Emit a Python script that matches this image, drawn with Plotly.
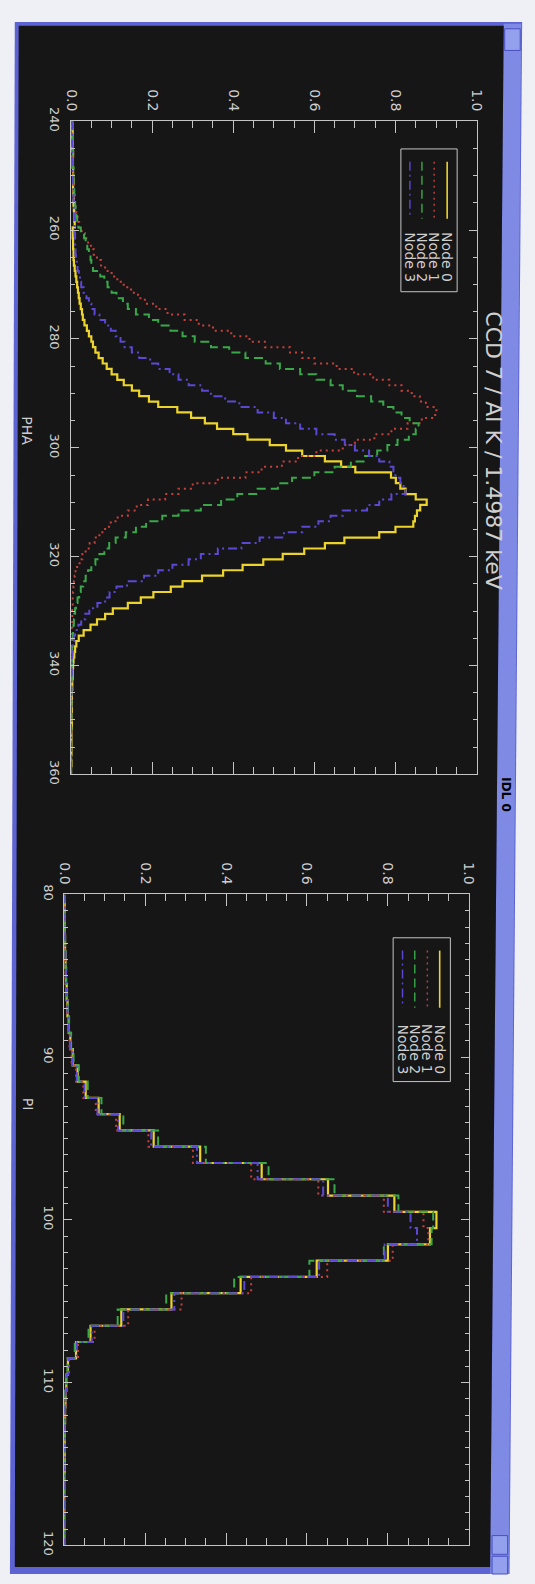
import plotly.graph_objects as go

W, H = 535, 1584

# ---------------- data ----------------
pha = list(range(240, 361))
pha_node0 = [
    0.003, 0.002, 0.004, 0.003, 0.004, 0.003, 0.005, 0.004, 0.004, 0.005,
    0.005, 0.006, 0.005, 0.006, 0.007, 0.006, 0.007, 0.008, 0.008, 0.009,
    0.004, 0.004, 0.005, 0.005, 0.006, 0.006, 0.007, 0.009, 0.011, 0.013,
    0.015, 0.017, 0.019, 0.021, 0.024, 0.027, 0.029, 0.033, 0.039, 0.044,
    0.050, 0.054, 0.060, 0.068, 0.078, 0.088, 0.100, 0.114, 0.130, 0.150,
    0.168, 0.192, 0.215, 0.262, 0.296, 0.330, 0.360, 0.400, 0.435, 0.490,
    0.530, 0.570, 0.626, 0.666, 0.701, 0.789, 0.801, 0.812, 0.825, 0.850,
    0.877, 0.861, 0.853, 0.848, 0.844, 0.800, 0.760, 0.674, 0.626, 0.575,
    0.522, 0.474, 0.423, 0.375, 0.323, 0.275, 0.246, 0.203, 0.172, 0.140,
    0.103, 0.084, 0.064, 0.048, 0.031, 0.019, 0.013, 0.010, 0.008, 0.006,
    0.005, 0.004, 0.004, 0.003, 0.003, 0.002, 0.002, 0.002, 0.002, 0.001,
    0.001, 0.002, 0.001, 0.001, 0.001, 0.001, 0.001, 0.000, 0.001, 0.000,
    0.000,
]
pha_node1 = [
    0.002, 0.003, 0.002, 0.003, 0.003, 0.004, 0.003, 0.004, 0.004, 0.005,
    0.005, 0.005, 0.006, 0.006, 0.007, 0.009, 0.011, 0.013, 0.016, 0.020,
    0.026, 0.034, 0.042, 0.049, 0.056, 0.064, 0.074, 0.084, 0.100, 0.114,
    0.130, 0.148, 0.165, 0.182, 0.210, 0.238, 0.280, 0.315, 0.350, 0.395,
    0.440, 0.478, 0.540, 0.570, 0.600, 0.655, 0.698, 0.745, 0.785, 0.815,
    0.840, 0.860, 0.875, 0.901, 0.898, 0.865, 0.830, 0.790, 0.748, 0.700,
    0.670, 0.605, 0.560, 0.520, 0.470, 0.430, 0.362, 0.300, 0.265, 0.232,
    0.190, 0.162, 0.140, 0.115, 0.098, 0.084, 0.070, 0.058, 0.046, 0.036,
    0.028, 0.021, 0.015, 0.011, 0.009, 0.007, 0.006, 0.005, 0.004, 0.004,
    0.003, 0.003, 0.003, 0.002, 0.002, 0.002, 0.002, 0.001, 0.002, 0.001,
    0.001, 0.001, 0.001, 0.001, 0.001, 0.001, 0.000, 0.001, 0.000, 0.001,
    0.000, 0.000, 0.001, 0.000, 0.000, 0.000, 0.000, 0.000, 0.000, 0.000,
    0.000,
]
pha_node2 = [
    0.003, 0.004, 0.003, 0.004, 0.004, 0.005, 0.004, 0.005, 0.005, 0.006,
    0.006, 0.006, 0.007, 0.008, 0.009, 0.010, 0.011, 0.013, 0.015, 0.018,
    0.024, 0.032, 0.036, 0.040, 0.044, 0.048, 0.050, 0.054, 0.072, 0.082,
    0.090, 0.100, 0.112, 0.128, 0.140, 0.160, 0.192, 0.215, 0.245, 0.275,
    0.305, 0.345, 0.390, 0.430, 0.480, 0.515, 0.565, 0.605, 0.640, 0.670,
    0.705, 0.740, 0.770, 0.795, 0.815, 0.835, 0.857, 0.850, 0.833, 0.805,
    0.780, 0.755, 0.725, 0.690, 0.650, 0.600, 0.545, 0.510, 0.460, 0.410,
    0.370, 0.320, 0.265, 0.225, 0.185, 0.160, 0.135, 0.110, 0.094, 0.082,
    0.070, 0.060, 0.050, 0.042, 0.036, 0.030, 0.024, 0.020, 0.016, 0.012,
    0.010, 0.008, 0.007, 0.006, 0.005, 0.004, 0.004, 0.003, 0.003, 0.002,
    0.002, 0.002, 0.002, 0.001, 0.001, 0.001, 0.001, 0.001, 0.000, 0.001,
    0.000, 0.001, 0.000, 0.000, 0.000, 0.000, 0.000, 0.000, 0.000, 0.000,
    0.000,
]
pha_node3 = [
    0.002, 0.003, 0.003, 0.002, 0.003, 0.004, 0.003, 0.004, 0.004, 0.004,
    0.005, 0.005, 0.005, 0.006, 0.006, 0.007, 0.007, 0.008, 0.008, 0.009,
    0.009, 0.010, 0.010, 0.010, 0.011, 0.012, 0.014, 0.016, 0.019, 0.022,
    0.025, 0.031, 0.038, 0.044, 0.050, 0.058, 0.070, 0.084, 0.098, 0.110,
    0.122, 0.132, 0.150, 0.168, 0.195, 0.215, 0.243, 0.265, 0.290, 0.323,
    0.345, 0.380, 0.415, 0.460, 0.500, 0.530, 0.565, 0.605, 0.650, 0.675,
    0.700, 0.735, 0.760, 0.785, 0.795, 0.800, 0.812, 0.820, 0.825, 0.790,
    0.760, 0.730, 0.670, 0.640, 0.610, 0.570, 0.525, 0.465, 0.420, 0.362,
    0.320, 0.290, 0.250, 0.215, 0.180, 0.138, 0.112, 0.095, 0.084, 0.065,
    0.045, 0.035, 0.025, 0.018, 0.010, 0.007, 0.005, 0.004, 0.003, 0.003,
    0.002, 0.002, 0.001, 0.001, 0.001, 0.001, 0.000, 0.001, 0.000, 0.000,
    0.000, 0.000, 0.000, 0.000, 0.000, 0.000, 0.000, 0.000, 0.000, 0.000,
    0.000,
]

pi = list(range(80, 121))
pi_node0 = [
    0.000, 0.001, 0.001, 0.002, 0.003, 0.004, 0.006, 0.008, 0.011, 0.015,
    0.021, 0.033, 0.053, 0.085, 0.137, 0.221, 0.336, 0.488, 0.652, 0.816,
    0.920, 0.904, 0.800, 0.624, 0.436, 0.265, 0.141, 0.065, 0.029, 0.009,
    0.005, 0.003, 0.002, 0.001, 0.001, 0.001, 0.000, 0.000, 0.000, 0.000,
    0.000,
]
pi_node1 = [
    0.000, 0.001, 0.001, 0.001, 0.002, 0.003, 0.005, 0.007, 0.010, 0.013,
    0.018, 0.029, 0.047, 0.078, 0.128, 0.208, 0.318, 0.462, 0.628, 0.790,
    0.888, 0.900, 0.812, 0.650, 0.462, 0.290, 0.158, 0.075, 0.034, 0.012,
    0.006, 0.004, 0.002, 0.001, 0.001, 0.001, 0.000, 0.000, 0.000, 0.000,
    0.000,
]
pi_node2 = [
    0.000, 0.001, 0.001, 0.002, 0.003, 0.005, 0.007, 0.009, 0.012, 0.017,
    0.023, 0.036, 0.058, 0.092, 0.146, 0.232, 0.350, 0.505, 0.668, 0.826,
    0.912, 0.908, 0.790, 0.606, 0.420, 0.252, 0.132, 0.060, 0.026, 0.008,
    0.004, 0.002, 0.001, 0.001, 0.000, 0.000, 0.000, 0.000, 0.000, 0.000,
    0.000,
]
pi_node3 = [
    0.000, 0.001, 0.001, 0.002, 0.003, 0.004, 0.006, 0.008, 0.011, 0.014,
    0.020, 0.031, 0.050, 0.082, 0.133, 0.215, 0.328, 0.478, 0.640, 0.800,
    0.856, 0.872, 0.792, 0.630, 0.445, 0.272, 0.146, 0.068, 0.031, 0.010,
    0.005, 0.003, 0.002, 0.001, 0.001, 0.000, 0.000, 0.000, 0.000, 0.000,
    0.000,
]

node_names = ["Node 0", "Node 1", "Node 2", "Node 3"]
node_colors = ["#ecd42c", "#c8403c", "#3aa84a", "#5b48d4"]
node_dashes = ["solid", "2px,4px", "9px,5px", "9px,4px,2px,4px"]
node_widths = [2.2, 2.0, 2.0, 2.0]

value_ticks = [0.0, 0.2, 0.4, 0.6, 0.8, 1.0]
value_labels = ["0.0", "0.2", "0.4", "0.6", "0.8", "1.0"]
pha_ticks = [240, 260, 280, 300, 320, 340, 360]
pha_labels = ["240", "260", "280", "300", "320", "340", "360"]
pi_ticks = [80, 90, 100, 110, 120]
pi_labels = ["80", "90", "100", "110", "120"]

plot_title = "CCD 7 / Al K / 1.4987 keV"
window_title = "IDL 0"

# ---------------- styling ----------------
FONT = "DejaVu Sans"
AX = "#c4c4c4"
TXT = "#cfcfcf"
BLACK = "#161617"
FRAME = "#5d63d2"
BAR = "#7e8ae4"


def fx(x):
    return x / W


def fy(y):
    return 1 - y / H


fig = go.Figure()

# histograms (PHA / PI run down the page, normalised counts run across)
for name, vals, col, dash, lw in zip(node_names, [pha_node0, pha_node1, pha_node2, pha_node3],
                                     node_colors, node_dashes, node_widths):
    fig.add_trace(go.Scatter(x=vals, y=pha, mode="lines", name=name, xaxis="x", yaxis="y",
                             line=dict(color=col, dash=dash, width=lw, shape="vhv"),
                             showlegend=False, hoverinfo="skip"))
for name, vals, col, dash, lw in zip(node_names, [pi_node0, pi_node1, pi_node2, pi_node3],
                                     node_colors, node_dashes, node_widths):
    fig.add_trace(go.Scatter(x=vals, y=pi, mode="lines", name=name, xaxis="x2", yaxis="y2",
                             line=dict(color=col, dash=dash, width=lw, shape="vhv"),
                             showlegend=False, hoverinfo="skip"))


def value_axis(dom, anchor):
    return dict(domain=dom, range=[0, 1], side="top", anchor=anchor,
                tickmode="array", tickvals=value_ticks, ticktext=value_labels,
                tickangle=90, ticks="inside", ticklen=12, tickwidth=1, tickcolor=AX,
                minor=dict(tick0=0, dtick=0.05, ticks="inside", ticklen=7, tickcolor=AX, tickwidth=1),
                showline=True, linecolor=AX, linewidth=1, mirror="allticks",
                showgrid=False, zeroline=False, ticklabelstandoff=4,
                tickfont=dict(family=FONT, size=14, color=TXT))


def channel_axis(dom, anchor, rng, tv, tt, mdt):
    return dict(domain=dom, range=rng, side="left", anchor=anchor,
                tickmode="array", tickvals=tv, ticktext=tt,
                tickangle=90, ticks="inside", ticklen=8, tickwidth=1, tickcolor=AX,
                minor=dict(tick0=rng[1], dtick=mdt, ticks="inside", ticklen=4, tickcolor=AX, tickwidth=1),
                showline=True, linecolor=AX, linewidth=1, mirror="allticks",
                showgrid=False, zeroline=False, ticklabelstandoff=4,
                tickfont=dict(family=FONT, size=13, color=TXT))


shapes = []
# window: blue frame, title bar, black drawing area (slightly skewed scan)
shapes.append(dict(type="path", xref="paper", yref="paper", layer="below",
                   path=f"M {fx(7)} {fy(8)} L {fx(530)} {fy(8)} L {fx(517)} {fy(1584)} L {fx(2)} {fy(1584)} Z",
                   fillcolor=FRAME, line=dict(width=0)))
shapes.append(dict(type="path", xref="paper", yref="paper", layer="below",
                   path=f"M {fx(511)} {fy(10)} L {fx(529)} {fy(10)} L {fx(516)} {fy(1584)} L {fx(497)} {fy(1584)} Z",
                   fillcolor=BAR, line=dict(width=0)))
shapes.append(dict(type="path", xref="paper", yref="paper", layer="below",
                   path=f"M {fx(11)} {fy(12)} L {fx(511)} {fy(12)} L {fx(497)} {fy(1577)} L {fx(7)} {fy(1577)} Z",
                   fillcolor=BLACK, line=dict(width=0)))
# title bar buttons
for (x0, y0, x1, y1) in [(512, 15, 528, 37), (499, 1545, 515, 1564), (499, 1566, 515, 1584)]:
    shapes.append(dict(type="rect", xref="paper", yref="paper", layer="below",
                       x0=fx(x0), x1=fx(x1), y0=fy(y1), y1=fy(y0),
                       fillcolor="#93a0ee", line=dict(color="#4a50c0", width=1)))

annotations = []


def vtext(x, y, text, size, color=TXT):
    return dict(x=fx(x), y=fy(y), xref="paper", yref="paper", text=text, showarrow=False,
                textangle=90, xanchor="center", yanchor="middle",
                font=dict(family=FONT, size=size, color=color))


# legend boxes drawn rotated like the rest of the window
legends = [
    dict(box=(405, 137, 463, 282), xs=[452.7, 439.3, 426.7, 414.3], ly=(150, 208), ty=247),
    dict(box=(397, 938, 456, 1084), xs=[445.0, 432.3, 419.3, 406.7], ly=(951, 1009), ty=1051),
]
for lg in legends:
    x0, y0, x1, y1 = lg["box"]
    shapes.append(dict(type="rect", xref="paper", yref="paper", x0=fx(x0), x1=fx(x1),
                       y0=fy(y1), y1=fy(y0), line=dict(color=AX, width=1), layer="above"))
    for xs, name, col, dash, lw in zip(lg["xs"], node_names, node_colors, node_dashes, node_widths):
        shapes.append(dict(type="line", xref="paper", yref="paper", x0=fx(xs), x1=fx(xs),
                           y0=fy(lg["ly"][0]), y1=fy(lg["ly"][1]),
                           line=dict(color=col, dash=dash, width=lw - 0.6), layer="above"))
        annotations.append(vtext(xs, lg["ty"], name, 14))

annotations += [
    vtext(501, 443, plot_title, 22),
    vtext(20, 423, "PHA", 14),
    vtext(20, 1107, "PI", 14),
    vtext(513, 793, f"<b>{window_title}</b>", 12, "#000000"),
]

fig.update_layout(
    width=W, height=H, margin=dict(l=0, r=0, t=0, b=0),
    paper_bgcolor="#eef0f5", plot_bgcolor="rgba(0,0,0,0)",
    showlegend=False,
    xaxis=value_axis([fx(65), fx(483)], "y"),
    yaxis=channel_axis([fy(772), fy(109)], "x", [360, 240], pha_ticks, pha_labels, 5),
    xaxis2=value_axis([fx(58), fx(475)], "y2"),
    yaxis2=channel_axis([fy(1555), fy(894)], "x2", [120, 80], pi_ticks, pi_labels, 1),
    shapes=shapes, annotations=annotations,
)

fig.write_html("out.html")
